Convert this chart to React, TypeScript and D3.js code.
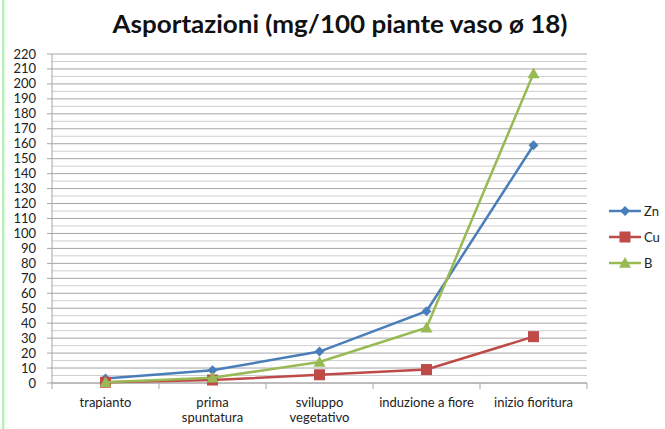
import React from "react";
import * as d3 from "d3";

const categories = ["trapianto", "prima\nspuntatura", "sviluppo\nvegetativo", "induzione a fiore", "inizio fioritura"];
const seriesNames = ["Zn", "Cu", "B"];
const znValues = [3, 8.5, 21, 48, 159];
const cuValues = [0.5, 2, 5.5, 9, 31];
const bValues = [0.5, 3.5, 14, 37, 207];
const yTicks = d3.range(0, 221, 10);
const gridValues = d3.range(0, 221, 5);

const W = 665, H = 429;
const left = 52, right = 587, top = 54, bottom = 383;

export default function App() {
  const x = d3.scaleBand().domain(categories).range([left, right]);
  const y = d3.scaleLinear().domain([0, 220]).range([bottom, top]);
  const cx = (c: string) => (x(c) as number) + x.bandwidth() / 2;
  const line = d3.line<[string, number]>().x(d => cx(d[0])).y(d => y(d[1]));
  const series = [
    { name: seriesNames[0], values: znValues, color: "#4a7ebb", shape: "diamond" },
    { name: seriesNames[1], values: cuValues, color: "#be4b48", shape: "square" },
    { name: seriesNames[2], values: bValues, color: "#98b954", shape: "triangle" },
  ];
  const marker = (shape: string, px: number, py: number, color: string) => {
    if (shape === "diamond") {
      const s = 5;
      return <path d={`M${px},${py - s}L${px + s},${py}L${px},${py + s}L${px - s},${py}Z`} fill={color} />;
    }
    if (shape === "square") {
      const s = 5.5;
      return <rect x={px - s} y={py - s} width={2 * s} height={2 * s} fill={color} />;
    }
    const s = 6;
    return <path d={`M${px},${py - s}L${px + s},${py + s * 0.8}L${px - s},${py + s * 0.8}Z`} fill={color} />;
  };
  return (
    <svg width={W} height={H} style={{ position: "absolute", left: 0, top: 0, background: "#fff" }}
      fontFamily="Lato, 'Open Sans', sans-serif">
      <rect x={0} y={0} width={W} height={H} fill="#fff" />
      <rect x={2} y={0} width={2.5} height={H} fill="#b9efb9" />
      <text x={340} y={33} textAnchor="middle" fontSize={25} fontWeight="bold" fill="#111"
        textLength={455} lengthAdjust="spacingAndGlyphs">Asportazioni (mg/100 piante vaso ø 18)</text>
      {gridValues.map(v => (
        <line key={v} x1={left} x2={right} y1={y(v)} y2={y(v)} stroke={v % 10 === 0 ? "#a6a6a6" : "#cfcfcf"} strokeWidth={1} />
      ))}
      <line x1={left} x2={left} y1={top} y2={bottom} stroke="#a6a6a6" />
      <line x1={left} x2={right} y1={bottom} y2={bottom} stroke="#a6a6a6" />
      {yTicks.map(v => (
        <g key={v}>
          <line x1={left - 5} x2={left} y1={y(v)} y2={y(v)} stroke="#a6a6a6" />
          <text x={36} y={y(v) + 4.5} textAnchor="end" fontSize={13} fill="#222">{v}</text>
        </g>
      ))}
      {categories.map((c, i) => (
        <line key={"t" + i} x1={x(c) as number} x2={x(c) as number} y1={bottom} y2={bottom + 6} stroke="#a6a6a6" />
      ))}
      <line x1={right} x2={right} y1={bottom} y2={bottom + 6} stroke="#a6a6a6" />
      {categories.map((c, i) => (
        <text key={"c" + i} x={cx(c)} y={407} textAnchor="middle" fontSize={13} fill="#222">
          {c.split("\n").map((s, j) => (
            <tspan key={j} x={cx(c)} dy={j === 0 ? 0 : 15}>{s}</tspan>
          ))}
        </text>
      ))}
      {series.map(s => (
        <g key={s.name}>
          <path d={line(categories.map((c, i) => [c, s.values[i]] as [string, number])) || ""} fill="none" stroke={s.color} strokeWidth={2.5} />
          {categories.map((c, i) => <g key={i}>{marker(s.shape, cx(c), y(s.values[i]), s.color)}</g>)}
        </g>
      ))}
      {series.map((s, i) => {
        const ly = 211 + i * 26;
        return (
          <g key={"l" + s.name}>
            <line x1={609} x2={641} y1={ly} y2={ly} stroke={s.color} strokeWidth={2.5} />
            {marker(s.shape, 625, ly, s.color)}
            <text x={644} y={ly + 4.5} fontSize={13} fill="#222">{s.name}</text>
          </g>
        );
      })}
    </svg>
  );
}
